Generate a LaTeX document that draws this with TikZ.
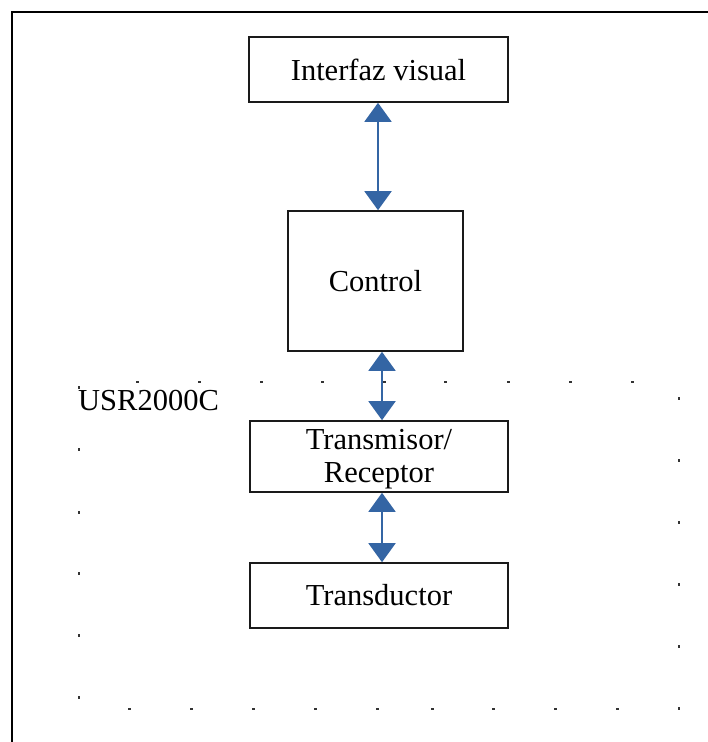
\documentclass[tikz,border=0pt]{standalone}
\usepackage{fontspec}
\setmainfont{Liberation Serif}
\usetikzlibrary{arrows.meta}
\definecolor{linkblue}{HTML}{3465A4}
\definecolor{dotgray}{HTML}{333333}
\definecolor{edgegray}{HTML}{1A1A1A}
\begin{document}
\begin{tikzpicture}[x=1pt,y=-1pt,
  blockbox/.style={draw=edgegray, line width=1.6pt, fill=white, inner sep=0pt,
    font=\fontsize{30.5}{33}\selectfont},
  blocktext/.style={inner sep=0pt, align=center, font=\fontsize{30.5}{33}\selectfont},
  biarrow/.style={draw=linkblue, line width=1.8pt,
    {Triangle[width=27pt,length=19pt]}-{Triangle[width=27pt,length=19pt]}},
  frameline/.style={line width=2.4pt, black},
  dotmark/.style={fill=dotgray},
]
\useasboundingbox (0,0) rectangle (708,742);
\fill[white] (0,0) rectangle (708,742);

% outer frame, running off the page to the right and below
\draw[frameline] (12,745) -- (12,12) -- (711,12);

% dotted outline of the USR2000C module
\foreach \x in {137,199,261,322,384,445,508,570,632}
  \fill[dotmark] (\x-1.5,381.2) rectangle ++(3,1.6);
\foreach \x in {129,191,253,315,377,432,493,555,617}
  \fill[dotmark] (\x-1.5,708.2) rectangle ++(3,1.6);
\foreach \y in {387,449,512,573,635,697}
  \fill[dotmark] (78.2,\y-1.5) rectangle ++(1.6,3);
\foreach \y in {398,460,522,584,646,708}
  \fill[dotmark] (678.2,\y-1.5) rectangle ++(1.6,3);

\node[anchor=base west, inner sep=0pt, font=\fontsize{30.5}{33}\selectfont]
  (module) at (78,410) {USR2000C};

% blocks
\node[blockbox, minimum width=259pt, minimum height=65pt] (ui) at (378.5,69.5) {Interfaz visual};
\node[blockbox, minimum width=175pt, minimum height=140pt] (ctrl) at (375.5,281) {Control};
\node[blockbox, minimum width=258pt, minimum height=71pt] (tr) at (379,456.5) {};
\node[blocktext] (trtext) at ([yshift=-3pt]tr.center) {Transmisor/\\Receptor};
\node[blockbox, minimum width=258pt, minimum height=65pt] (td) at (379,595.5) {Transductor};

% two-way links between the blocks
\coordinate (lineA) at (378,0);
\coordinate (lineB) at (382,0);
\draw[biarrow] (ui.south -| lineA) -- (ctrl.north -| lineA);
\draw[biarrow] (ctrl.south -| lineB) -- (tr.north -| lineB);
\draw[biarrow] (tr.south -| lineB) -- (td.north -| lineB);
\end{tikzpicture}
\end{document}
